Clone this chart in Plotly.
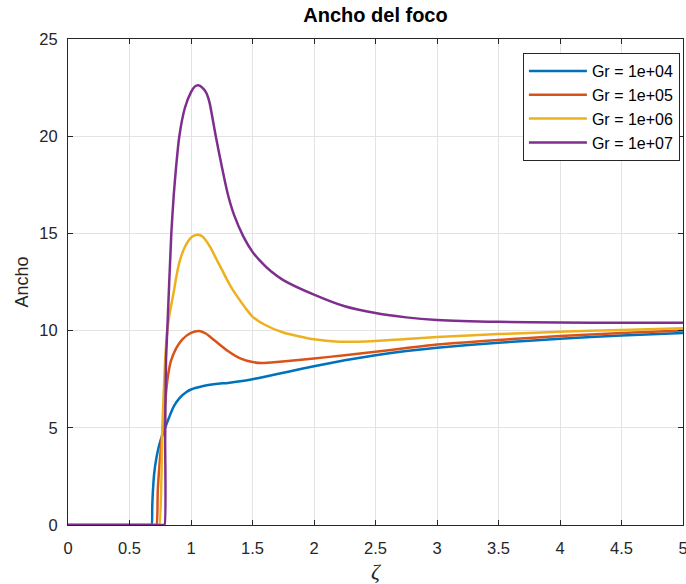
import plotly.graph_objects as go

# Data
x_1e4 = [0, 0.66, 0.67, 0.68, 0.685, 0.69, 0.70, 0.72, 0.75, 0.79, 0.82, 0.86, 0.91, 0.96, 1.0, 1.1, 1.2, 1.3, 1.4, 1.5, 1.6, 1.8, 2.0, 2.25, 2.5, 2.75, 3.0, 3.5, 4.0, 4.5, 5.0]
y_1e4 = [0, 0, 0, 0, 1.0, 1.7, 2.6, 3.5, 4.3, 5.0, 5.5, 6.1, 6.55, 6.83, 6.97, 7.15, 7.25, 7.31, 7.39, 7.5, 7.63, 7.9, 8.17, 8.47, 8.73, 8.95, 9.12, 9.38, 9.58, 9.75, 9.88]

x_1e5 = [0, 0.70, 0.71, 0.72, 0.73, 0.75, 0.775, 0.79, 0.807, 0.835, 0.88, 0.93, 1.0, 1.067, 1.12, 1.2, 1.3, 1.4, 1.5, 1.575, 1.7, 2.0, 2.25, 2.5, 2.75, 3.0, 3.5, 4.0, 4.5, 5.0]
y_1e5 = [0, 0, 0, 0, 1.8, 3.6, 5.3, 6.3, 7.4, 8.4, 9.1, 9.55, 9.88, 9.98, 9.85, 9.45, 8.95, 8.57, 8.38, 8.33, 8.38, 8.57, 8.73, 8.91, 9.1, 9.28, 9.52, 9.72, 9.88, 10.0]

x_1e6 = [0, 0.72, 0.73, 0.742, 0.767, 0.79, 0.807, 0.83, 0.86, 0.88, 0.905, 0.95, 1.0, 1.03, 1.06, 1.09, 1.12, 1.16, 1.21, 1.25, 1.29, 1.33, 1.36, 1.45, 1.5, 1.6, 1.75, 2.0, 2.2, 2.5, 2.75, 3.0, 3.5, 4.0, 4.5, 5.0]
y_1e6 = [0, 0, 0, 0, 5.0, 8.5, 10.0, 11.0, 12.0, 12.75, 13.5, 14.3, 14.78, 14.9, 14.93, 14.85, 14.65, 14.25, 13.63, 13.15, 12.65, 12.2, 11.9, 11.1, 10.72, 10.3, 9.9, 9.55, 9.43, 9.47, 9.57, 9.67, 9.82, 9.94, 10.03, 10.12]

x_1e7 = [0, 0.76, 0.775, 0.785, 0.79, 0.797, 0.807, 0.84, 0.86, 0.88, 0.905, 0.95, 1.0, 1.03, 1.06, 1.1, 1.127, 1.15, 1.2, 1.25, 1.3, 1.35, 1.425, 1.5, 1.56, 1.65, 1.75, 2.0, 2.25, 2.5, 2.75, 3.0, 3.5, 4.0, 4.5, 5.0]
y_1e7 = [0, 0, 0, 0, 4.5, 8.5, 10.0, 15.0, 17.0, 18.5, 20.0, 21.45, 22.27, 22.55, 22.62, 22.45, 22.2, 21.75, 20.05, 18.45, 17.0, 15.95, 14.85, 14.05, 13.6, 13.05, 12.6, 11.85, 11.25, 10.9, 10.68, 10.55, 10.45, 10.42, 10.4, 10.4]

names = ["Gr = 1e+04", "Gr = 1e+05", "Gr = 1e+06", "Gr = 1e+07"]
colors = ["#0072BD", "#D95319", "#EDB120", "#7E2F8E"]
series = [(x_1e4, y_1e4), (x_1e5, y_1e5), (x_1e6, y_1e6), (x_1e7, y_1e7)]

x_ticks = [0, 0.5, 1, 1.5, 2, 2.5, 3, 3.5, 4, 4.5, 5]
x_tick_labels = ["0", "0.5", "1", "1.5", "2", "2.5", "3", "3.5", "4", "4.5", "5"]
y_ticks = [0, 5, 10, 15, 20, 25]
y_tick_labels = ["0", "5", "10", "15", "20", "25"]

FONT = "Liberation Sans, Arial, sans-serif"

fig = go.Figure()
for (xs, ys), name, c in zip(series, names, colors):
    fig.add_trace(go.Scatter(x=xs, y=ys, mode="lines", name=name,
                             line=dict(color=c, width=2.5, shape="spline", smoothing=0.6)))

axis_common = dict(
    showline=True, linecolor="#262626", linewidth=1, mirror="ticks",
    ticks="inside", ticklen=5, tickcolor="#262626", tickwidth=1,
    showgrid=True, gridcolor="#e3e3e3", gridwidth=1, zeroline=False,
    tickfont=dict(family=FONT, size=16.5, color="#262626"),
    ticklabeloverflow="allow", automargin=False,
)

fig.update_layout(
    width=686, height=584,
    paper_bgcolor="white", plot_bgcolor="white",
    margin=dict(l=68, r=3, t=39, b=59, autoexpand=False),
    title=dict(text="<b>Ancho del foco</b>", x=0.5, xanchor="center",
               xref="paper", y=1 - 15 / 584, yanchor="middle",
               font=dict(family=FONT, size=20, color="black")),
    xaxis=dict(range=[0, 5], tickvals=x_ticks, ticktext=x_tick_labels,
               ticklabelstandoff=8,
               title=dict(text="<i>ζ</i>", standoff=12,
                          font=dict(family="Liberation Serif, serif", size=22, color="#262626")),
               **axis_common),
    yaxis=dict(range=[0, 25], tickvals=y_ticks, ticktext=y_tick_labels,
               ticklabelstandoff=6,
               title=dict(text="Ancho", standoff=6,
                          font=dict(family=FONT, size=18, color="#262626")),
               **axis_common),
    legend=dict(x=0.995, y=0.971, xanchor="right", yanchor="top",
                bgcolor="white", bordercolor="#262626", borderwidth=1,
                font=dict(family=FONT, size=16, color="black"),
                itemwidth=58, tracegroupgap=0,
                entrywidth=170, entrywidthmode="pixels"),
    showlegend=True,
)

fig.write_html("out.html")
